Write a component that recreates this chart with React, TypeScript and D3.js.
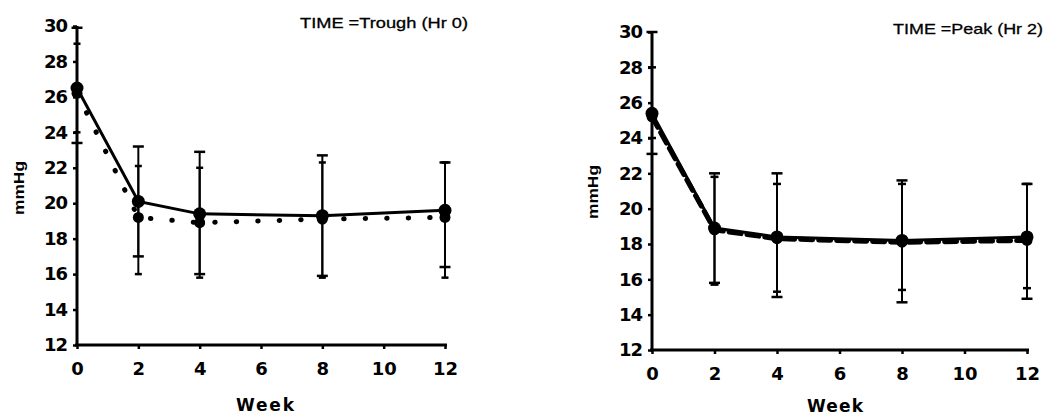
import React, { useEffect, useRef } from "react";
import * as d3 from "d3";

const weeks = [0, 2, 4, 8, 12];
const xTicks = [0, 2, 4, 6, 8, 10, 12];
const yTicks = [12, 14, 16, 18, 20, 22, 24, 26, 28, 30];

// Left panel: TIME = Trough (Hr 0)
const troughSolid = [26.5, 20.1, 19.4, 19.3, 19.6];
const troughSolidUpper = [29.9, 23.2, 22.9, 22.7, 22.3];
const troughSolidLower = [23.4, 17.0, 16.0, 15.9, 16.4];
const troughDotted = [26.2, 19.2, 18.9, 19.1, 19.2];
const troughDottedUpper = [29.0, 22.1, 22.0, 22.3, 22.3];
const troughDottedLower = [24.0, 16.0, 15.8, 15.8, 15.8];

// Right panel: TIME = Peak (Hr 2)
const peakSolid = [25.4, 18.9, 18.4, 18.2, 18.4];
const peakSolidUpper = [30.0, 22.0, 22.0, 21.6, 21.4];
const peakSolidLower = [23.1, 15.8, 15.0, 14.7, 14.9];
const peakDashed = [25.2, 18.8, 18.3, 18.1, 18.2];
const peakDashedUpper = [28.0, 21.8, 21.4, 21.4, 21.4];
const peakDashedLower = [24.0, 15.7, 15.3, 15.4, 15.5];

type Series = {
  values: number[];
  upper: number[];
  lower: number[];
  dash: string;
  cap: number;
};

type PanelProps = {
  x0: number;
  x1: number;
  yBottom: number;
  yTop: number;
  title: string;
  titleX: number;
  titleY: number;
  titleW: number;
  weekX: number;
  weekY: number;
  weekW: number;
  ylabX: number;
  ylabY: number;
  series: Series[];
};

const font = "'Liberation Sans', Arial, sans-serif";
const tickFont = "'DejaVu Sans', sans-serif";

function Panel(p: PanelProps) {
  const xAxisRef = useRef<SVGGElement>(null);
  const yAxisRef = useRef<SVGGElement>(null);
  const x = d3.scaleLinear().domain([0, 12]).range([p.x0, p.x1]);
  const y = d3.scaleLinear().domain([12, 30]).range([p.yBottom, p.yTop]);

  useEffect(() => {
    const xa = d3
      .axisBottom(x)
      .tickValues(xTicks)
      .tickSize(4)
      .tickPadding(13)
      .tickFormat(d3.format("d"));
    const ya = d3
      .axisLeft(y)
      .tickValues(yTicks)
      .tickSize(4)
      .tickPadding(6)
      .tickFormat(d3.format("d"));
    const gx = d3.select(xAxisRef.current!);
    gx.call(xa as any);
    gx.attr("font-size", 18).attr("font-family", tickFont);
    gx.select(".domain").attr("stroke-width", 3).attr("d", `M${p.x0 - 2},0H${p.x1 + 2}`);
    gx.selectAll(".tick line").attr("stroke-width", 2.5);
    gx.selectAll(".tick text")
      .style("font-size", "18px")
      .style("font-weight", "bold")
      .style("font-family", tickFont)
      .attr("fill", "#000");
    const gy = d3.select(yAxisRef.current!);
    gy.call(ya as any);
    gy.attr("font-size", 18).attr("font-family", tickFont);
    gy.select(".domain").attr("stroke-width", 3).attr("d", `M0,${p.yBottom + 1}V${p.yTop}`);
    gy.selectAll(".tick line").attr("stroke-width", 2.5);
    gy.selectAll(".tick text")
      .style("font-size", "18px")
      .style("font-weight", "bold")
      .style("font-family", tickFont)
      .style("letter-spacing", "-1px")
      .attr("fill", "#000");
  });

  const line = d3
    .line<number>()
    .x((_, i) => x(weeks[i]))
    .y((v) => y(v));

  return (
    <g>
      {p.series.map((s, si) => (
        <g key={"eb" + si}>
          {weeks.map((w, i) => (
            <g key={i} stroke="#000" strokeWidth={2}>
              <line x1={x(w)} x2={x(w)} y1={y(s.upper[i])} y2={y(s.lower[i])} />
              <line x1={x(w) - s.cap / 2} x2={x(w) + s.cap / 2} y1={y(s.upper[i])} y2={y(s.upper[i])} strokeWidth={2.5} />
              <line x1={x(w) - s.cap / 2} x2={x(w) + s.cap / 2} y1={y(s.lower[i])} y2={y(s.lower[i])} strokeWidth={2.5} />
            </g>
          ))}
        </g>
      ))}
      {p.series.map((s, si) => (
        <path
          key={"ln" + si}
          d={line(s.values) || ""}
          fill="none"
          stroke="#000"
          strokeWidth={si === 0 ? 3 : 5}
          strokeDasharray={s.dash}
          strokeLinecap={s.dash ? "round" : "butt"}
        />
      ))}
      {p.series.map((s, si) => (
        <g key={"pt" + si}>
          {weeks.map((w, i) => (
            <circle key={i} cx={x(w)} cy={y(s.values[i])} r={si === 0 ? 6.5 : 5.5} fill="#000" />
          ))}
        </g>
      ))}
      <g ref={xAxisRef} transform={`translate(0,${p.yBottom})`} />
      <g ref={yAxisRef} transform={`translate(${p.x0},0)`} />
      <text
        x={p.titleX}
        y={p.titleY}
        fontSize={15}
        fontFamily={font}
        fill="#000"
        stroke="#000"
        strokeWidth={0.3}
        textLength={p.titleW}
        lengthAdjust="spacingAndGlyphs"
      >
        {p.title}
      </text>
      <text
        x={p.weekX}
        y={p.weekY}
        fontSize={17}
        fontWeight="bold"
        fontFamily={tickFont}
        fill="#000"
        textLength={p.weekW}
        lengthAdjust="spacing"
      >
        Week
      </text>
      <text
        transform={`translate(${p.ylabX},${p.ylabY}) rotate(-90)`}
        textAnchor="middle"
        fontSize={15}
        fontWeight="bold"
        fontFamily={font}
        fill="#000"
        textLength={54}
        lengthAdjust="spacingAndGlyphs"
      >
        mmHg
      </text>
    </g>
  );
}

export default function App() {
  return (
    <svg
      width={1048}
      height={418}
      style={{ position: "absolute", left: 0, top: 0, background: "#fff" }}
    >
      <rect width={1048} height={418} fill="#fff" />
      <Panel
        x0={77}
        x1={445}
        yBottom={345}
        yTop={26}
        title="TIME =Trough (Hr 0)"
        titleX={300}
        titleY={28}
        titleW={168}
        weekX={236}
        weekY={411}
        weekW={58}
        ylabX={24}
        ylabY={188}
        series={[
          { values: troughSolid, upper: troughSolidUpper, lower: troughSolidLower, dash: "", cap: 11 },
          { values: troughDotted, upper: troughDottedUpper, lower: troughDottedLower, dash: "0.5 21", cap: 7 },
        ]}
      />
      <Panel
        x0={652}
        x1={1027}
        yBottom={350}
        yTop={32}
        title="TIME =Peak (Hr 2)"
        titleX={893}
        titleY={34}
        titleW={150}
        weekX={807}
        weekY={412}
        weekW={56}
        ylabX={598}
        ylabY={192}
        series={[
          { values: peakSolid, upper: peakSolidUpper, lower: peakSolidLower, dash: "", cap: 11 },
          { values: peakDashed, upper: peakDashedUpper, lower: peakDashedLower, dash: "12 6", cap: 8 },
        ]}
      />
    </svg>
  );
}
